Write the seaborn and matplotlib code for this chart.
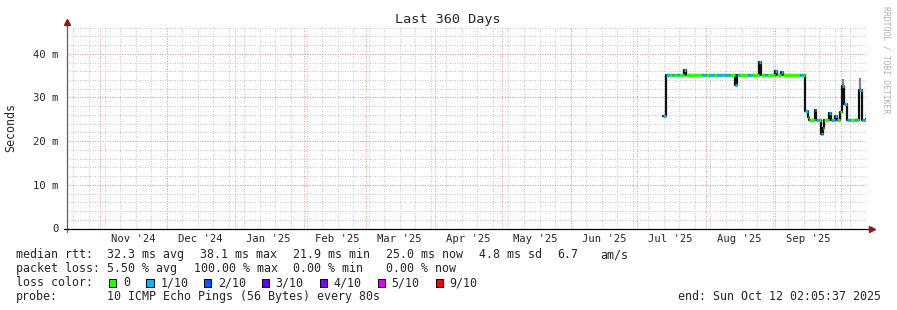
import numpy as np
import pandas as pd
import matplotlib
matplotlib.use("Agg")
import matplotlib.pyplot as plt
from matplotlib.patches import Rectangle
import seaborn as sns

# ---------------- data ----------------
step_times = [
    "2025-07-12 10:00", "2025-07-13 18:00", "2025-07-15 12:00", "2025-07-16 12:00",
    "2025-07-17 12:00", "2025-07-19 00:00", "2025-07-20 00:00", "2025-07-22 00:00",
    "2025-07-23 00:00", "2025-07-30 00:00", "2025-08-01 00:00", "2025-08-02 12:00",
    "2025-08-04 12:00", "2025-08-06 00:00", "2025-08-08 00:00", "2025-08-09 00:00",
    "2025-08-12 00:00", "2025-08-14 00:00", "2025-08-15 00:00", "2025-08-16 00:00",
    "2025-08-20 00:00", "2025-08-21 12:00", "2025-08-25 00:00", "2025-08-26 00:00",
    "2025-08-27 12:00", "2025-08-28 12:00", "2025-09-01 00:00", "2025-09-02 00:00",
    "2025-09-03 18:00", "2025-09-04 18:00", "2025-09-12 06:00", "2025-09-13 18:00",
    "2025-09-14 14:00", "2025-09-15 18:00", "2025-09-16 06:00", "2025-09-19 00:00",
    "2025-09-19 14:00", "2025-09-21 00:00", "2025-09-21 18:00", "2025-09-22 14:00",
    "2025-09-23 06:00", "2025-09-25 12:00", "2025-09-26 06:00", "2025-09-28 00:00",
    "2025-09-28 22:00", "2025-09-30 08:00", "2025-10-01 08:00", "2025-10-02 02:00",
    "2025-10-03 14:00", "2025-10-04 18:00", "2025-10-07 00:00", "2025-10-08 00:00",
    "2025-10-09 02:00", "2025-10-10 02:00", "2025-10-12 02:05",
]
step_median_ms = [
    25.8, 35.2, 35.2, 35.2,
    35.2, 35.2, 35.2, 36.2,
    35.2, 35.2, 35.2, 35.2,
    35.2, 35.2, 35.2, 35.2,
    35.2, 32.9, 35.2, 35.2,
    35.2, 35.2, 38.1, 35.2,
    35.2, 35.2, 36.0, 35.2,
    35.9, 35.2, 35.2, 35.2,
    27.0, 25.6, 24.9, 27.2,
    24.9, 24.9, 21.7, 23.0,
    24.9, 26.4, 24.9, 25.8,
    24.9, 26.6, 32.7, 28.6,
    24.9, 24.9, 24.9, 24.9,
    31.8, 24.9, 25.0,
]
step_loss = [
    1, 1, 0, 1,
    0, 1, 0, 1,
    0, 1, 0, 1,
    0, 1, 0, 1,
    0, 1, 1, 0,
    1, 0, 1, 0,
    1, 0, 1, 0,
    1, 0, 1, 0,
    1, 0, 0, 1,
    1, 0, 1, 0,
    0, 1, 1, 1,
    0, 0, 1, 1,
    1, 0, 1, 0,
    1, 1, 1,
]

smoke_times = ["2025-09-14 12:00", "2025-10-01 20:00", "2025-10-09 14:00"]
smoke_low_ms = [31.0, 32.7, 31.8]
smoke_high_ms = [35.2, 34.3, 34.4]

month_labels = ["Nov '24", "Dec '24", "Jan '25", "Feb '25", "Mar '25", "Apr '25",
                "May '25", "Jun '25", "Jul '25", "Aug '25", "Sep '25"]
month_label_dates = ["2024-11-16", "2024-12-16", "2025-01-16", "2025-02-16", "2025-03-16",
                     "2025-04-16", "2025-05-16", "2025-06-16", "2025-07-16", "2025-08-16",
                     "2025-09-16"]
y_ticks = [0, 10, 20, 30, 40]
y_tick_labels = ["0", "10 m", "20 m", "30 m", "40 m"]

rtt_values = ["32.3 ms avg", "38.1 ms max", "21.9 ms min", "25.0 ms now", "4.8 ms sd", "6.7", "am/s"]
loss_values = ["5.50 % avg", "100.00 % max", "0.00 % min", "0.00 % now"]
loss_labels = ["0", "1/10", "2/10", "3/10", "4/10", "5/10", "9/10"]
loss_colors = ["#26ff00", "#00b8ff", "#0059ff", "#5e00ff", "#7e00ff", "#dd00ff", "#ff0000"]
probe_text = "10 ICMP Echo Pings (56 Bytes) every 80s"
end_text = "end: Sun Oct 12 02:05:37 2025"
title = "Last 360 Days"

start = pd.Timestamp("2024-10-17 02:05:37")
end = pd.Timestamp("2025-10-12 02:05:37")

# ---------------- style ----------------
sns.set_style("white")
plt.rcParams["font.family"] = ["DejaVu Sans Mono"]

W, H = 897, 310
fig = plt.figure(figsize=(W / 100, H / 100), dpi=100)
fig.patch.set_facecolor("white")

px_per_m = 4.367
y_bottom_px = 228.5
y_top = 46.0
ax_left, ax_right = 67, 866
ax_top_px = y_bottom_px - y_top * px_per_m
ax = fig.add_axes([ax_left / W, (H - y_bottom_px) / H,
                   (ax_right - ax_left) / W, (y_bottom_px - ax_top_px) / H])
ax.set_facecolor("white")
for s in ax.spines.values():
    s.set_visible(False)

ax.set_xlim(start, end)
ax.set_ylim(0, y_top)

dot = (0, (1, 1.5))
LW = 0.72
grid_kw = dict(lw=LW, ls=dot, snap=True)
# minor grid
for d in pd.date_range("2024-10-20", end, freq="7D"):
    ax.axvline(d, color="#c8c8c8", zorder=0, **grid_kw)
for yv in np.arange(2, y_top + 0.1, 2):
    ax.axhline(yv, color="#c8c8c8", zorder=0, **grid_kw)
# major grid
for d in pd.date_range("2024-11-01", end, freq="MS"):
    ax.axvline(d, color="#f09c9c", zorder=0.5, **grid_kw)
for yv in y_ticks[1:]:
    ax.axhline(yv, color="#f09c9c", zorder=0.5, **grid_kw)

# data
df = pd.DataFrame({"time": pd.to_datetime(step_times),
                   "median": step_median_ms, "loss": step_loss})
sns.lineplot(data=df, x="time", y="median", drawstyle="steps-post",
             color="#111111", lw=1.6, ax=ax, estimator=None, sort=False, zorder=3)

smk = pd.DataFrame({"time": pd.to_datetime(smoke_times),
                    "lo": smoke_low_ms, "hi": smoke_high_ms})
ax.vlines(smk["time"], smk["lo"], smk["hi"], color="#808080", lw=1.6, zorder=2.5)

for i in range(len(df) - 1):
    ax.hlines(df["median"][i], df["time"][i], df["time"][i + 1],
              color=loss_colors[df["loss"][i]], lw=2.2, zorder=4)

# axes lines and arrows
ax.plot([0, 0], [-0.015, 1.025], transform=ax.transAxes, color="#606060", lw=0.9,
        clip_on=False, zorder=5)
ax.plot([-0.004, 1.006], [0, 0], transform=ax.transAxes, color="black", lw=0.9,
        clip_on=False, zorder=5)
ax.plot([0], [1.03], transform=ax.transAxes, marker="^", ms=4.5, color="#8b1a1a",
        clip_on=False, zorder=6)
ax.plot([1.008], [0], transform=ax.transAxes, marker=">", ms=4.5, color="#8b1a1a",
        clip_on=False, zorder=6)

ax.set_yticks(y_ticks)
ax.set_yticklabels(y_tick_labels)
ax.set_xticks(pd.to_datetime(month_label_dates))
ax.set_xticklabels(month_labels)
ax.tick_params(axis="x", length=0, pad=4, labelsize=7.6)
ax.tick_params(axis="y", length=3, width=0.8, color="#606060", pad=3, labelsize=7.6)
ax.set_xlabel("")
ax.set_ylabel("")

def t(x, y, s, size=8.4, **kw):
    fig.text(x / W, 1 - y / H, s, fontsize=size, va="center", **kw)

t(448, 19, title, size=9.7, ha="center")
t(11, 128, "Seconds", size=8.4, ha="center", rotation=90)
t(886, 60, "RRDTOOL / TOBI OETIKER", size=5.9, ha="center", rotation=270, color="#b0b0b0")

t(16, 254.5, "median rtt:")
for x, s in zip([107, 199.5, 293, 386, 479, 557.5, 600], rtt_values):
    t(x, 254.5, s)
t(16, 268.5, "packet loss:")
for x, s in zip([107, 193.5, 293, 386], loss_values):
    t(x, 268.5, s)
t(16, 282.5, "loss color:")
for bx, lx, lab, col in zip([108.5, 146, 203.5, 261.5, 319.5, 377.5, 435.5],
                            [123, 160.5, 218, 275.5, 333.5, 391.5, 449.5],
                            loss_labels, loss_colors):
    fig.patches.append(Rectangle((bx / W, 1 - 286.5 / H), 7.5 / W, 8 / H,
                                 transform=fig.transFigure, facecolor=col,
                                 edgecolor="black", lw=0.7))
    t(lx, 282.5, lab)
t(16, 296.5, "probe:")
t(107, 296.5, probe_text)
t(881, 296.5, end_text, ha="right")

fig.savefig("out.png", dpi=100, facecolor="white")
